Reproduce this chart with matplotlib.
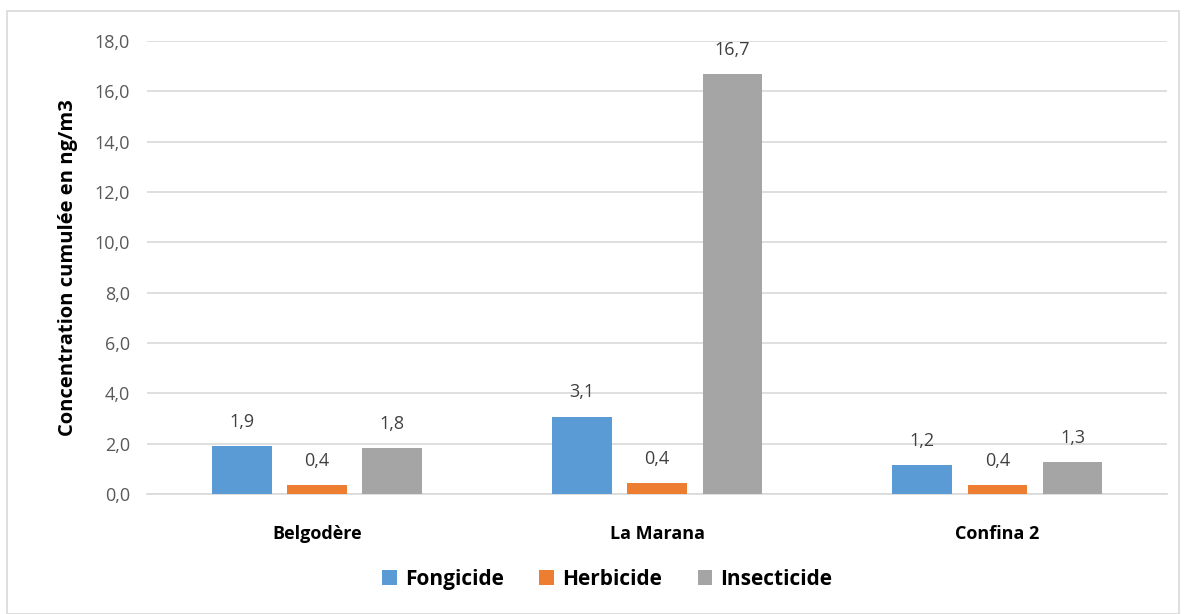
import numpy as np
import matplotlib.pyplot as plt
from matplotlib.patches import Rectangle

# data
sites = ['Belgodère', 'La Marana', 'Confina 2']
series = ['Fongicide', 'Herbicide', 'Insecticide']
fongicide = [1.92, 3.08, 1.16]
herbicide = [0.36, 0.43, 0.36]
insecticide = [1.82, 16.7, 1.26]
colors = ['#5b9bd5', '#ed7d31', '#a5a5a5']

plt.rcParams['font.family'] = ['Open Sans', 'DejaVu Sans']

fig = plt.figure(figsize=(11.84, 6.14), dpi=100)
ax = fig.add_axes([0.124, 0.1954, 0.862, 0.7378])

x = np.arange(len(sites))
width = 0.175
step = 0.221
for i, (name, vals) in enumerate(zip(series, [fongicide, herbicide, insecticide])):
    pos = x + (i - 1) * step
    bars = ax.bar(pos, vals, width, color=colors[i], label=name, zorder=3)
    for b, v in zip(bars, vals):
        ax.text(b.get_x() + b.get_width() / 2, v + 0.6, f'{v:.1f}'.replace('.', ','),
                ha='center', va='bottom', fontsize=13, color='#404040')

ax.set_ylim(0, 18)
ax.set_xlim(-0.5, 2.5)
ax.set_yticks(np.arange(0, 18.1, 2))
ax.set_yticklabels([f'{t:.1f}'.replace('.', ',') for t in np.arange(0, 18.1, 2)])
ax.set_xticks(x)
ax.set_xticklabels(sites, fontweight='bold', fontsize=13)
ax.tick_params(axis='y', length=0, labelsize=13, labelcolor='#595959', pad=12)
ax.tick_params(axis='x', length=0, pad=22)
ax.grid(axis='y', color='#d9d9d9', linewidth=1.2, zorder=0)
for s in ['top', 'right', 'left']:
    ax.spines[s].set_visible(False)
ax.spines['bottom'].set_color('#d9d9d9')
ax.spines['bottom'].set_linewidth(1.2)
ax.set_ylabel('Concentration cumulée en ng/m3', fontsize=14.5, fontweight='bold', labelpad=12)

leg = fig.legend(loc='center', bbox_to_anchor=(0.513, 0.057), ncol=3, frameon=False,
                 prop={'weight': 'bold', 'size': 15}, handlelength=0.7, handleheight=0.7,
                 columnspacing=1.7, handletextpad=0.4)

fig.patches.append(Rectangle((0.006, 0.0), 0.99, 0.982, transform=fig.transFigure,
                             fill=False, edgecolor='#d9d9d9', linewidth=1.2))

fig.savefig('out.png', dpi=100)
